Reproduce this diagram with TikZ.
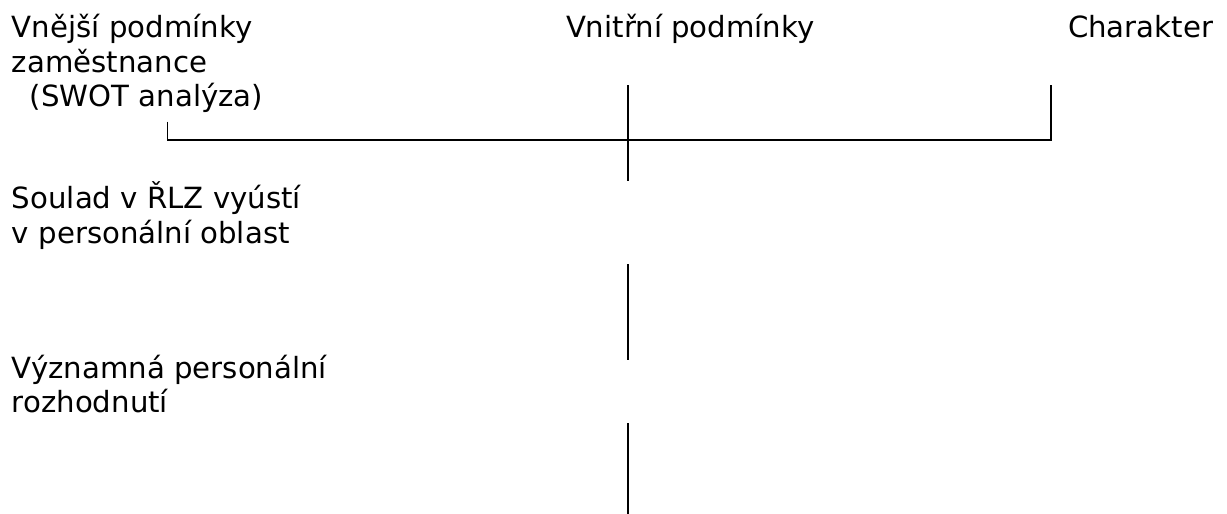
\documentclass[tikz,border=0pt]{standalone}
\usepackage{fontspec}
\setmainfont{DejaVu Sans}
\begin{document}
\begin{tikzpicture}[x=1pt,y=-1pt,
  lbl/.style={anchor=base west,inner sep=0pt,outer sep=0pt,align=left,font=\fontsize{29.2}{34.7}\selectfont},
  ln/.style={line width=1.8pt,black}]
\useasboundingbox (0,0) rectangle (1227,514);
\node[lbl] (ext) at (12,106.7) {Vnější podmínky\\zaměstnance\\\hspace*{18pt}(SWOT analýza)};
\node[lbl] (int) at (566,37.3) {Vnitřní podmínky};
\node[lbl] (chr) at (1068,37.3) {Charakter};
\node[lbl] (soul) at (12,243.3) {Soulad v ŘLZ vyústí\\v personální oblast};
\node[lbl] (vyz) at (12,412.7) {Významná personální\\rozhodnutí};
\coordinate (lt) at (167.5,121.7);
\coordinate (lb) at (167.5,140);
\coordinate (mt) at (628.3,85);
\coordinate (mc) at (628.3,140);
\coordinate (mb) at (628.3,181);
\coordinate (rt) at (1051,85);
\coordinate (rb) at (1051,140);
\coordinate (v2t) at (628.3,264);
\coordinate (v2b) at (628.3,360);
\coordinate (v3t) at (628.3,423.3);
\coordinate (v3b) at (628.3,514);
\draw[ln] (lt) -- (lb) -- (rb) -- (rt);
\draw[ln] (mt) -- (mb);
\draw[ln] (v2t) -- (v2b);
\draw[ln] (v3t) -- (v3b);
\end{tikzpicture}
\end{document}
